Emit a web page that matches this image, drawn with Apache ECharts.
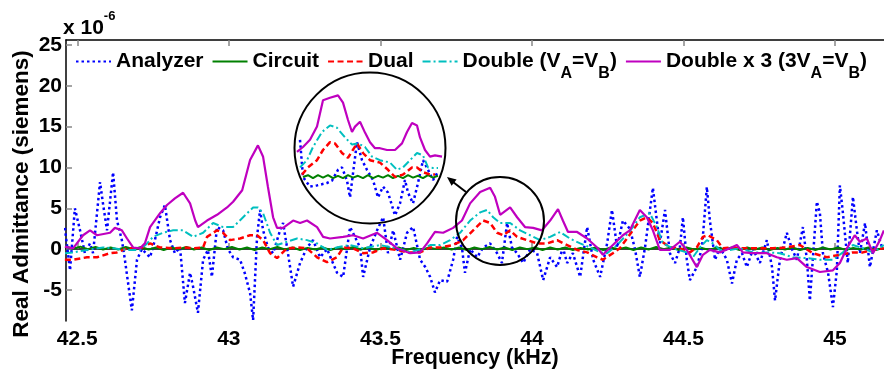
<!DOCTYPE html>
<html><head><meta charset="utf-8">
<script src="https://cdn.jsdelivr.net/npm/echarts@6/dist/echarts.min.js"></script>
<style>html,body{margin:0;padding:0;background:#fff}#c{width:884px;height:376px}</style>
</head><body><div id="c"></div>
<script>
// ---- tick labels / names ----
const xTicks = [42.5, 43, 43.5, 44, 44.5, 45];
const yTicks = [-5, 0, 5, 10, 15, 20, 25];
const seriesNames = ['Analyzer', 'Circuit', 'Dual', 'Double (VA=VB)', 'Double x 3 (3VA=VB)'];
const xName = 'Frequency (kHz)';
const yName = 'Real Admittance (siemens)';

// ---- main data: [frequency kHz, real admittance x1e-6 S] ----
const analyzer = [[42.459,2.6],[42.476,-2.6],[42.492,5.0],[42.509,2.3],[42.525,-0.5],[42.542,0.7],[42.552,-0.5],[42.575,8.2],[42.585,5.5],[42.598,2.3],[42.618,9.4],[42.631,3.5],[42.647,1.1],[42.657,-1.3],[42.680,-7.5],[42.697,-1.3],[42.713,0.0],[42.740,-1.0],[42.756,1.1],[42.773,3.9],[42.789,5.4],[42.806,1.1],[42.822,-0.5],[42.839,0.2],[42.855,-6.6],[42.872,-2.9],[42.882,-4.6],[42.898,-7.8],[42.915,-1.3],[42.931,-0.1],[42.944,-3.4],[42.961,2.7],[42.981,2.3],[42.997,0.0],[43.014,-1.0],[43.037,-1.3],[43.053,-3.0],[43.070,-5.4],[43.080,-8.7],[43.093,1.5],[43.103,4.8],[43.113,2.3],[43.129,0.2],[43.146,-0.5],[43.169,2.3],[43.179,3.2],[43.195,-0.5],[43.212,-4.6],[43.235,-1.7],[43.258,0.2],[43.278,1.1],[43.301,-1.0],[43.324,0.0],[43.357,-2.9],[43.377,-3.4],[43.400,2.7],[43.433,0.2],[43.443,-3.4],[43.466,0.2],[43.489,2.3],[43.509,3.9],[43.525,-0.5],[43.542,2.3],[43.565,-1.3],[43.588,2.0],[43.608,2.7],[43.631,-1.3],[43.648,-2.2],[43.664,-3.4],[43.680,-5.3],[43.697,-3.8],[43.720,-4.0],[43.740,-1.3],[43.753,1.5],[43.769,0.2],[43.779,-2.9],[43.796,0.0],[43.819,-1.0],[43.839,0.2],[43.862,0.7],[43.885,-0.5],[43.901,-1.7],[43.918,3.2],[43.934,0.2],[43.951,-0.5],[43.971,-1.7],[43.994,0.0],[44.017,-0.5],[44.037,-3.8],[44.060,-1.0],[44.083,-2.2],[44.102,0.2],[44.116,-1.7],[44.135,-0.5],[44.159,-3.4],[44.182,2.7],[44.202,-1.3],[44.225,-3.4],[44.248,0.7],[44.264,4.8],[44.281,0.2],[44.300,3.5],[44.323,2.5],[44.340,0.0],[44.356,-3.4],[44.373,0.2],[44.399,7.5],[44.412,3.5],[44.422,0.7],[44.439,4.8],[44.455,-0.5],[44.472,-1.7],[44.488,0.2],[44.498,3.9],[44.511,-1.3],[44.521,-3.8],[44.544,-2.2],[44.561,0.2],[44.577,7.6],[44.587,3.5],[44.604,-1.3],[44.620,0.2],[44.643,-1.3],[44.660,-4.2],[44.676,-1.3],[44.693,-0.5],[44.709,-2.2],[44.729,0.0],[44.752,-1.7],[44.775,1.1],[44.792,-2.2],[44.802,-6.3],[44.818,-1.3],[44.841,2.0],[44.858,0.0],[44.874,-1.3],[44.894,2.7],[44.907,-1.3],[44.917,-6.3],[44.940,5.8],[44.950,4.4],[44.960,-0.5],[44.977,-2.9],[44.993,-7.1],[45.006,-2.6],[45.016,7.8],[45.026,4.4],[45.042,-1.7],[45.059,6.4],[45.072,2.3],[45.082,-0.5],[45.099,3.2],[45.115,-2.2],[45.138,2.3],[45.155,0.2]];

const circuit = [[42.460,0.35],[42.485,0.05],[42.510,0.3],[42.535,0.0],[42.560,0.25],[42.585,-0.05],[42.610,0.2],[42.635,-0.05],[42.660,0.25],[42.685,0.0],[42.710,0.25],[42.735,-0.05],[42.760,0.2],[42.785,-0.1],[42.810,0.2],[42.835,0.0],[42.860,0.25],[42.885,-0.05],[42.910,0.2],[42.935,-0.1],[42.960,0.2],[42.985,0.0],[43.010,0.25],[43.035,-0.05],[43.060,0.2],[43.085,-0.1],[43.110,0.2],[43.135,0.0],[43.160,0.25],[43.185,-0.05],[43.210,0.2],[43.235,-0.1],[43.260,0.15],[43.285,-0.05],[43.310,0.2],[43.335,-0.1],[43.360,0.2],[43.385,0.0],[43.410,0.25],[43.435,-0.05],[43.460,0.2],[43.485,-0.1],[43.510,0.2],[43.535,0.0],[43.560,0.2],[43.585,-0.1],[43.610,0.15],[43.635,-0.1],[43.660,0.2],[43.685,0.0],[43.710,0.2],[43.735,-0.05],[43.760,0.2],[43.785,-0.1],[43.810,0.2],[43.835,0.0],[43.860,0.25],[43.885,-0.05],[43.910,0.2],[43.935,-0.1],[43.960,0.2],[43.985,0.0],[44.010,0.2],[44.035,-0.1],[44.060,0.2],[44.085,-0.05],[44.110,0.2],[44.135,-0.1],[44.160,0.15],[44.185,-0.05],[44.210,0.2],[44.235,-0.1],[44.260,0.2],[44.285,0.0],[44.310,0.2],[44.335,-0.1],[44.360,0.2],[44.385,-0.05],[44.410,0.25],[44.435,0.0],[44.460,0.2],[44.485,-0.1],[44.510,0.2],[44.535,-0.05],[44.560,0.15],[44.585,-0.1],[44.610,0.2],[44.635,0.0],[44.660,0.2],[44.685,-0.1],[44.710,0.2],[44.735,-0.05],[44.760,0.2],[44.785,-0.1],[44.810,0.15],[44.835,-0.05],[44.860,0.2],[44.885,-0.1],[44.910,0.15],[44.935,-0.1],[44.960,0.2],[44.985,-0.05],[45.010,0.2],[45.035,-0.1],[45.060,0.15],[45.085,-0.05],[45.110,0.2],[45.135,-0.1],[45.160,0.15]];

const dual = [[42.459,-1.3],[42.486,-1.3],[42.532,-1.0],[42.565,-1.0],[42.608,-0.5],[42.631,-0.4],[42.664,0.1],[42.707,0.1],[42.740,0.7],[42.773,0.2],[42.816,0.1],[42.849,0.2],[42.882,0.1],[42.915,0.2],[42.928,1.5],[42.961,2.3],[42.981,2.0],[43.004,1.1],[43.037,1.3],[43.070,1.7],[43.093,1.7],[43.113,1.1],[43.136,-0.5],[43.159,-1.1],[43.192,0.1],[43.225,0.2],[43.258,0.1],[43.291,-1.0],[43.324,-1.6],[43.357,-1.0],[43.377,0.2],[43.410,0.1],[43.443,-0.5],[43.476,-0.4],[43.509,0.1],[43.555,-0.1],[43.588,-0.4],[43.631,-0.4],[43.664,0.2],[43.697,0.2],[43.740,0.5],[43.773,1.1],[43.806,2.3],[43.839,3.5],[43.862,3.2],[43.885,2.0],[43.905,1.7],[43.928,2.3],[43.951,1.5],[43.984,1.1],[44.017,0.7],[44.050,0.7],[44.083,1.1],[44.116,0.5],[44.149,-0.1],[44.182,-0.4],[44.215,-1.0],[44.234,-1.3],[44.267,-0.5],[44.290,0.1],[44.323,1.8],[44.356,3.5],[44.379,3.9],[44.399,3.2],[44.422,1.1],[44.455,0.2],[44.488,0.1],[44.521,-0.4],[44.544,0.2],[44.564,1.5],[44.580,1.7],[44.610,1.1],[44.630,0.1],[44.663,0.2],[44.696,0.1],[44.752,0.1],[44.795,0.1],[44.841,0.2],[44.884,0.5],[44.927,-0.5],[44.973,-1.0],[45.016,-0.7],[45.059,-0.4],[45.092,-0.4],[45.125,-0.1],[45.161,0.1]];

const double1 = [[42.459,-0.5],[42.486,-0.4],[42.532,-0.1],[42.585,0.2],[42.618,0.1],[42.664,-0.1],[42.707,-0.1],[42.730,0.7],[42.750,1.5],[42.783,2.0],[42.816,2.3],[42.849,2.3],[42.882,1.5],[42.915,2.0],[42.948,3.2],[42.981,2.7],[43.014,2.7],[43.047,3.9],[43.080,5.1],[43.096,5.1],[43.113,4.4],[43.136,2.0],[43.159,0.5],[43.192,0.9],[43.225,1.3],[43.258,1.1],[43.291,0.7],[43.324,-0.1],[43.367,0.3],[43.400,0.5],[43.443,0.1],[43.499,0.5],[43.555,0.1],[43.598,-0.4],[43.641,0.1],[43.664,0.5],[43.697,0.5],[43.730,1.1],[43.763,2.0],[43.796,3.5],[43.829,4.5],[43.852,4.8],[43.872,3.9],[43.895,3.2],[43.928,3.2],[43.961,2.3],[43.994,1.7],[44.027,1.1],[44.060,1.5],[44.093,2.1],[44.125,1.3],[44.159,0.7],[44.192,0.2],[44.225,-0.4],[44.248,-0.5],[44.281,0.5],[44.323,2.2],[44.356,3.9],[44.389,4.4],[44.412,2.7],[44.432,0.7],[44.465,0.1],[44.511,-0.4],[44.531,-1.0],[44.554,0.2],[44.577,1.1],[44.597,0.7],[44.620,-0.1],[44.653,-0.1],[44.686,0.1],[44.729,-0.4],[44.775,-0.4],[44.818,-0.5],[44.861,-1.0],[44.907,-1.1],[44.950,-1.3],[44.993,-1.3],[45.026,-0.4],[45.059,0.5],[45.092,0.1],[45.125,-0.4],[45.161,0.5]];

const double3 = [[42.459,0.3],[42.486,0.1],[42.519,1.7],[42.542,2.3],[42.565,1.7],[42.608,2.0],[42.624,2.6],[42.647,2.3],[42.664,1.3],[42.684,0.2],[42.707,0.1],[42.723,0.7],[42.740,2.7],[42.773,4.4],[42.796,5.4],[42.822,6.2],[42.849,6.9],[42.872,5.6],[42.889,3.5],[42.898,2.7],[42.928,3.5],[42.961,4.2],[42.994,5.1],[43.014,5.8],[43.044,7.2],[43.070,10.9],[43.096,12.7],[43.113,11.3],[43.129,7.6],[43.146,3.9],[43.159,2.6],[43.179,2.6],[43.212,3.5],[43.235,3.2],[43.258,3.5],[43.291,2.7],[43.311,1.5],[43.334,1.3],[43.377,1.5],[43.410,1.7],[43.443,1.3],[43.489,2.0],[43.522,1.1],[43.555,0.1],[43.598,-0.5],[43.631,-0.4],[43.654,0.7],[43.680,2.1],[43.707,2.0],[43.740,2.6],[43.769,3.5],[43.796,5.6],[43.829,7.0],[43.862,7.5],[43.878,6.4],[43.895,4.2],[43.928,5.1],[43.951,3.9],[43.977,2.7],[44.004,2.6],[44.033,2.3],[44.060,3.5],[44.086,4.9],[44.102,3.5],[44.119,2.1],[44.149,2.1],[44.182,1.3],[44.215,0.2],[44.234,-0.7],[44.267,0.5],[44.300,1.7],[44.323,2.3],[44.356,4.8],[44.379,3.9],[44.399,2.3],[44.422,-0.1],[44.455,-0.1],[44.488,0.9],[44.511,-0.1],[44.544,-2.2],[44.564,-0.7],[44.587,-0.1],[44.620,-0.4],[44.653,0.1],[44.676,0.5],[44.696,-0.4],[44.729,-0.5],[44.775,-0.5],[44.808,-1.0],[44.841,-1.3],[44.874,-1.1],[44.907,-2.2],[44.950,-2.8],[44.993,-2.6],[45.016,-1.7],[45.039,0.1],[45.065,1.7],[45.082,0.9],[45.105,1.3],[45.125,-0.5],[45.148,1.1],[45.161,2.3]];

// ---- magnified inset data ----
const insetAnalyzer = [[43.764,3.1],[43.770,0.0],[43.784,-0.8],[43.798,-0.7],[43.818,-0.5],[43.828,-0.3],[43.840,0.6],[43.848,0.8],[43.858,-0.3],[43.864,-1.7],[43.870,0.3],[43.878,2.9],[43.888,1.4],[43.898,0.6],[43.910,-0.25],[43.920,-1.7],[43.930,-0.8],[43.940,-1.3],[43.954,-3.2],[43.964,-2.2],[43.974,-0.25],[43.980,-1.3],[43.990,-2.2],[44.000,-0.5],[44.010,1.4],[44.020,0.6],[44.030,-0.25],[44.038,0.3]];
const insetCircuit = [[43.770,0],[43.780,0.15],[43.790,-0.1],[43.800,0.15],[43.810,-0.05],[43.820,0.15],[43.830,-0.1],[43.840,0.1],[43.850,-0.1],[43.860,0.15],[43.870,-0.05],[43.880,0.1],[43.890,-0.1],[43.900,0.15],[43.910,-0.1],[43.920,0.1],[43.930,-0.05],[43.940,0.15],[43.950,-0.1],[43.960,0.1],[43.970,-0.1],[43.980,0.15],[43.990,-0.05],[44.000,0.1],[44.010,-0.1],[44.020,0.15],[44.030,-0.05],[44.040,0.1]];
const insetDual = [[43.768,0.2],[43.780,0.8],[43.798,1.4],[43.810,2.25],[43.824,2.9],[43.834,2.8],[43.848,2.0],[43.860,1.6],[43.878,2.8],[43.890,2.0],[43.904,1.4],[43.924,1.2],[43.940,0.6],[43.954,0.0],[43.970,0.2],[43.988,0.8],[43.998,0.8],[44.010,0.4],[44.024,0.2],[44.034,0.2]];
const insetDouble1 = [[43.764,0.8],[43.778,1.4],[43.790,2.5],[43.808,3.75],[43.824,4.3],[43.838,4.1],[43.854,3.3],[43.868,2.7],[43.880,2.8],[43.894,2.5],[43.908,1.7],[43.924,1.4],[43.944,1.2],[43.958,0.6],[43.970,0.8],[43.984,1.4],[43.998,2.0],[44.010,1.8],[44.020,0.8],[44.030,0.75],[44.040,0.75]];
const insetDouble3 = [[43.758,2.1],[43.770,2.5],[43.784,3.1],[43.798,4.2],[43.810,6.4],[43.824,6.6],[43.840,6.8],[43.850,6.2],[43.860,4.75],[43.868,3.75],[43.874,4.2],[43.884,4.6],[43.894,3.7],[43.904,2.9],[43.914,2.4],[43.924,2.4],[43.938,2.25],[43.954,2.25],[43.968,2.8],[43.978,3.75],[43.988,4.5],[43.998,4.3],[44.004,3.3],[44.014,2.25],[44.024,1.7],[44.034,1.8],[44.048,1.7]];

// ---- styling ----
const FONT = 'Liberation Sans, Arial, sans-serif';
const colors = ['#0000ff', '#008000', '#ff0000', '#00bfbf', '#bf00bf'];
const lineTypes = [[2.5, 3], 'solid', [6, 3.5], [8, 3, 2, 3], 'solid'];
const lineWidths = [2.5, 2, 2.5, 2, 2.2];
const mainData = [analyzer, circuit, dual, double1, double3];
const insetData = [insetAnalyzer, insetCircuit, insetDual, insetDouble1, insetDouble3];

const legendText = {
  'Analyzer': '{n|Analyzer}',
  'Circuit': '{n|Circuit}',
  'Dual': '{n|Dual}',
  'Double (VA=VB)': '{n|Double (V}{s|A}{n|=V}{s|B}{n|)}',
  'Double x 3 (3VA=VB)': '{n|Double x 3 (3V}{s|A}{n|=V}{s|B}{n|)}'
};

const tickFmt = v => String(+v.toFixed(2));

const series = [];
mainData.forEach((d, i) => {
  series.push({
    name: seriesNames[i], type: 'line', data: d, xAxisIndex: 0, yAxisIndex: 0,
    symbol: 'none', smooth: false, animation: false,
    lineStyle: { color: colors[i], width: lineWidths[i], type: lineTypes[i] },
    itemStyle: { color: colors[i] }
  });
});
insetData.forEach((d, i) => {
  series.push({
    name: 'inset ' + seriesNames[i], type: 'line', data: d, xAxisIndex: 2, yAxisIndex: 1,
    symbol: 'none', animation: false,
    lineStyle: { color: colors[i], width: lineWidths[i], type: lineTypes[i] },
    itemStyle: { color: colors[i] }
  });
});

const chart = echarts.init(document.getElementById('c'), null, { renderer: 'canvas' });
chart.setOption({
  animation: false,
  backgroundColor: '#ffffff',
  title: {
    text: '{a|x 10}{b|-6}', left: 63, top: 10, padding: 0,
    textStyle: { rich: {
      a: { fontFamily: FONT, fontWeight: 'bold', fontSize: 21, color: '#000', lineHeight: 36 },
      b: { fontFamily: FONT, fontWeight: 'bold', fontSize: 13, color: '#000', lineHeight: 14, verticalAlign: 'top' }
    } }
  },
  legend: {
    data: seriesNames, left: 75, top: 51, padding: 0, itemGap: 8,
    itemWidth: 35, itemHeight: 14, selectedMode: false,
    itemStyle: { opacity: 0, borderWidth: 0 },
    formatter: n => legendText[n],
    textStyle: { rich: {
      n: { fontFamily: FONT, fontWeight: 'bold', fontSize: 21, color: '#000', lineHeight: 40 },
      s: { fontFamily: FONT, fontWeight: 'bold', fontSize: 16, color: '#000', lineHeight: 14, verticalAlign: 'bottom' }
    } }
  },
  grid: [
    { left: 66, top: 40, right: 0, bottom: 55, containLabel: false, outerBoundsMode: 'none' },
    { left: 293, top: 73, width: 154, height: 150, containLabel: false, outerBoundsMode: 'none' }
  ],
  xAxis: [
    { gridIndex: 0, type: 'value', min: 42.4627, max: 45.1615, position: 'bottom',
      name: xName, nameLocation: 'middle', nameGap: 26, nameMoveOverlap: false,
      nameTextStyle: { fontFamily: FONT, fontWeight: 'bold', fontSize: 21.5, color: '#000' },
      axisLine: { lineStyle: { color: '#000', width: 1.5 } },
      axisTick: { inside: true, length: 6, customValues: xTicks, lineStyle: { color: '#888', width: 1.5 } },
      axisLabel: { customValues: xTicks, formatter: tickFmt, margin: 8, fontFamily: FONT, fontWeight: 'bold', fontSize: 21, color: '#000' },
      splitLine: { show: false } },
    { gridIndex: 0, type: 'value', min: 42.4627, max: 45.1615, position: 'top',
      axisLine: { lineStyle: { color: '#000', width: 1.5 } },
      axisTick: { inside: true, length: 6, customValues: xTicks, lineStyle: { color: '#888', width: 1.5 } },
      axisLabel: { show: false }, splitLine: { show: false } },
    { gridIndex: 1, type: 'value', min: 43.75, max: 44.058, show: false }
  ],
  yAxis: [
    { gridIndex: 0, type: 'value', min: -8.8, max: 25.6,
      axisLine: { show: true, lineStyle: { color: '#000', width: 1.5 } },
      axisTick: { show: true, inside: true, length: 6, customValues: yTicks, lineStyle: { color: '#888', width: 1.5 } },
      axisLabel: { customValues: yTicks, formatter: tickFmt, margin: 4, fontFamily: FONT, fontWeight: 'bold', fontSize: 21, color: '#000' },
      splitLine: { show: false } },
    { gridIndex: 1, type: 'value', min: -3.8333, max: 8.6667, show: false }
  ],
  series: series,
  graphic: [
    { type: 'text', x: 22, y: 194, rotation: Math.PI / 2,
      style: { text: yName, fill: '#000', font: 'bold 22.5px ' + FONT, align: 'center', verticalAlign: 'middle' } },
    { type: 'circle', shape: { cx: 500, cy: 221, r: 44 }, style: { fill: 'none', stroke: '#000', lineWidth: 2 }, z: 50 },
    { type: 'circle', shape: { cx: 370, cy: 148, r: 75.5 }, style: { fill: 'none', stroke: '#000', lineWidth: 2 }, z: 50 },
    { type: 'line', shape: { x1: 466, y1: 192, x2: 453, y2: 182 }, style: { stroke: '#000', lineWidth: 2 }, z: 50 },
    { type: 'polygon', shape: { points: [[447, 177], [456.6, 179.5], [451.6, 185.7]] }, style: { fill: '#000' }, z: 50 }
  ]
});
</script>
</body></html>
